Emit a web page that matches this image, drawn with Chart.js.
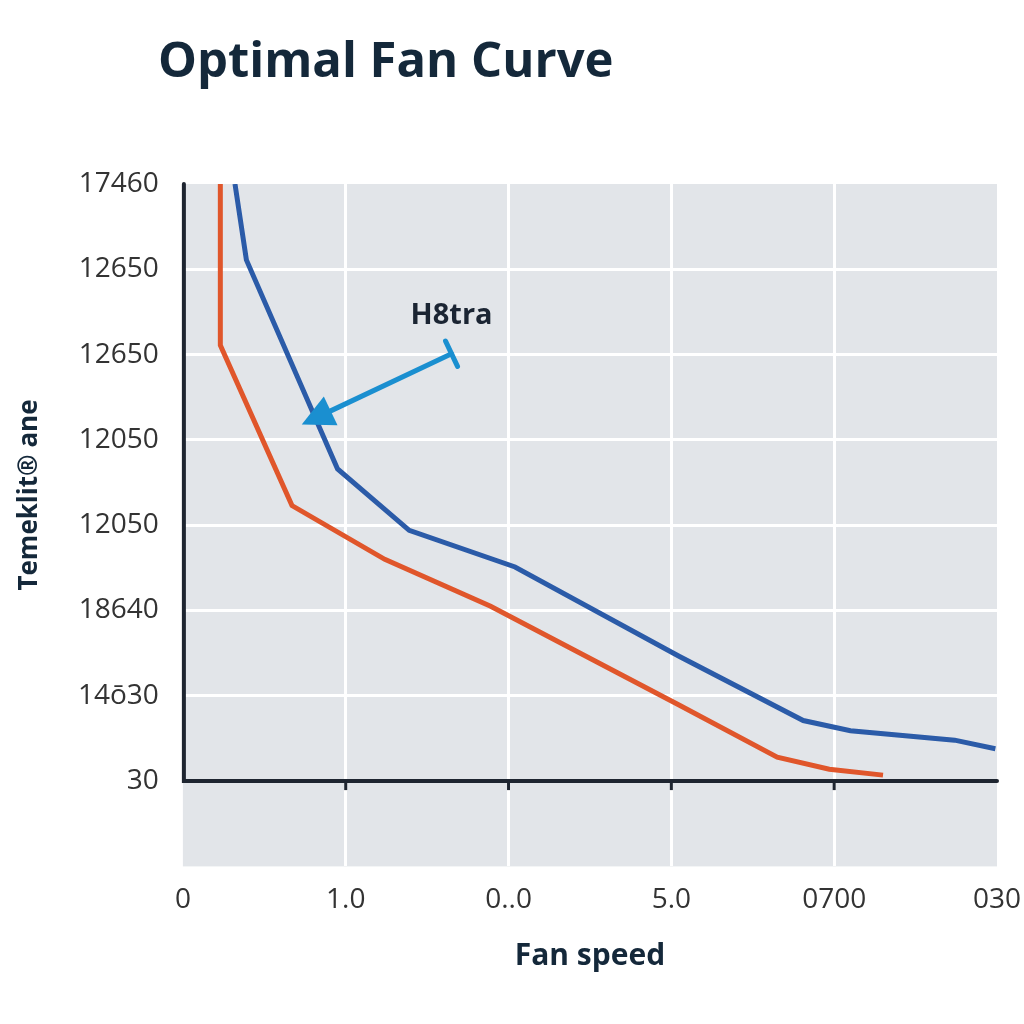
<!DOCTYPE html>
<html>
<head>
<meta charset="utf-8">
<title>Optimal Fan Curve</title>
<script src="https://cdn.jsdelivr.net/npm/chart.js@4.4.0/dist/chart.umd.min.js"></script>
<style>
  html, body { margin: 0; padding: 0; background: #ffffff; }
  #wrap { width: 1024px; height: 1024px; }
</style>
</head>
<body>
<div id="wrap"><canvas id="fanChart" width="1024" height="1024"></canvas></div>
<script>
// Etiquetas de los ejes (tal como aparecen en la imagen)
const xTickLabels = ["0", "1.0", "0..0", "5.0", "0700", "030"];
const yTickLabels = ["", "30", "14ō30", "18640", "12050", "12050", "12650", "12650", "17460"];

// Curva azul
const blueX = [0.32, 0.39, 0.95, 1.39, 2.04, 3.05, 3.81, 4.10, 4.74, 4.99];
const blueY = [8.0, 7.11, 4.66, 3.94, 3.51, 2.46, 1.71, 1.59, 1.48, 1.38];

// Curva naranja
const orangeX = [0.23, 0.23, 0.67, 1.24, 1.89, 3.05, 3.65, 3.97, 4.30];
const orangeY = [8.0, 6.11, 4.23, 3.60, 3.05, 1.89, 1.28, 1.14, 1.07];

// Anotación "H8tra" con flecha
const noteText = "H8tra";
const noteTail = [1.65, 6.01];
const noteTip = [0.73, 5.18];

const toPoints = (xs, ys) => xs.map((x, i) => ({ x: x, y: ys[i] }));

const fontFamily = "'Open Sans', 'Noto Sans', sans-serif";

// Fondo gris del área del gráfico
const plotBackground = {
    id: "plotBackground",
    beforeDraw(chart) {
        const { ctx, chartArea } = chart;
        ctx.save();
        ctx.fillStyle = "#e2e5e9";
        ctx.fillRect(chartArea.left, chartArea.top, chartArea.right - chartArea.left, chartArea.bottom - chartArea.top);
        ctx.restore();
    }
};

// Ejes negros, marcas, títulos y anotación
const decorations = {
    id: "decorations",
    beforeDatasetsDraw(chart) {
        const { ctx, chartArea, scales } = chart;
        const x0 = scales.x.getPixelForValue(0);
        const y1 = scales.y.getPixelForValue(1);
        ctx.save();
        ctx.strokeStyle = "#1e2530";
        ctx.lineWidth = 4;
        ctx.lineCap = "round";
        ctx.beginPath();
        ctx.moveTo(x0 + 1, chartArea.top);
        ctx.lineTo(x0 + 1, y1);
        ctx.lineTo(chartArea.right, y1);
        ctx.stroke();
        // marcas pequeñas
        ctx.lineWidth = 3;
        ctx.lineCap = "butt";
        [1, 2, 3, 4].forEach(v => {
            const px = scales.x.getPixelForValue(v);
            ctx.beginPath();
            ctx.moveTo(px, y1);
            ctx.lineTo(px, y1 + 9);
            ctx.stroke();
        });
        ctx.restore();
    },
    afterDraw(chart) {
        const { ctx, scales } = chart;
        ctx.save();
        // Título
        ctx.fillStyle = "#14283a";
        ctx.font = "bold 49px " + fontFamily;
        ctx.textAlign = "left";
        ctx.textBaseline = "alphabetic";
        ctx.fillText("Optimal Fan Curve", 158, 77);

        // Título del eje Y
        ctx.save();
        ctx.translate(30, 495);
        ctx.rotate(-Math.PI / 2);
        ctx.font = "bold 26px " + fontFamily;
        ctx.textAlign = "center";
        ctx.textBaseline = "middle";
        ctx.fillText("Temeklit\u00AE ane", 0, 0);
        ctx.restore();

        // Flecha
        const tx = scales.x.getPixelForValue(noteTail[0]);
        const ty = scales.y.getPixelForValue(noteTail[1]);
        const hx = scales.x.getPixelForValue(noteTip[0]);
        const hy = scales.y.getPixelForValue(noteTip[1]);
        const ang = Math.atan2(hy - ty, hx - tx);
        const headLen = 32, headW = 16;
        const bx = hx - headLen * Math.cos(ang);
        const by = hy - headLen * Math.sin(ang);
        ctx.strokeStyle = "#1a8fd0";
        ctx.fillStyle = "#1a8fd0";
        ctx.lineWidth = 5;
        ctx.lineCap = "round";
        ctx.beginPath();
        ctx.moveTo(tx, ty);
        ctx.lineTo(bx, by);
        ctx.stroke();
        // barra del extremo
        const px = -Math.sin(ang), py = Math.cos(ang);
        ctx.beginPath();
        ctx.moveTo(tx + px * 14, ty + py * 14);
        ctx.lineTo(tx - px * 14, ty - py * 14);
        ctx.stroke();
        // punta
        ctx.beginPath();
        ctx.moveTo(hx, hy);
        ctx.lineTo(bx + px * headW, by + py * headW);
        ctx.lineTo(bx - px * headW, by - py * headW);
        ctx.closePath();
        ctx.fill();

        // Texto de la anotación
        ctx.fillStyle = "#1b2533";
        ctx.font = "bold 29px " + fontFamily;
        ctx.textAlign = "center";
        ctx.textBaseline = "middle";
        ctx.fillText(noteText, tx, ty - 38);
        ctx.restore();
    }
};

const ctx = document.getElementById("fanChart").getContext("2d");
const fanChart = new Chart(ctx, {
    type: "line",
    data: {
        datasets: [
            {
                label: "Blue",
                data: toPoints(blueX, blueY),
                borderColor: "#2b5ba8",
                borderWidth: 5,
                pointRadius: 0,
                fill: false,
                tension: 0
            },
            {
                label: "Orange",
                data: toPoints(orangeX, orangeY),
                borderColor: "#e0562b",
                borderWidth: 5,
                pointRadius: 0,
                fill: false,
                tension: 0
            }
        ]
    },
    options: {
        responsive: false,
        animation: false,
        layout: {
            padding: { top: 184, right: 27, left: 54, bottom: 50 }
        },
        plugins: {
            legend: { display: false },
            tooltip: { enabled: false },
            title: { display: false }
        },
        scales: {
            x: {
                type: "linear",
                min: 0,
                max: 5,
                border: { display: false },
                afterFit(scale) {
                    // dejar que la última etiqueta sobresalga del área
                    scale.paddingRight = 0;
                    scale.paddingLeft = 0;
                },
                grid: {
                    color: c => (c.tick && c.tick.value > 0 && c.tick.value < 5) ? "#ffffff" : "rgba(0,0,0,0)",
                    lineWidth: 3,
                    drawTicks: false
                },
                ticks: {
                    stepSize: 1,
                    padding: 17,
                    color: "#333333",
                    font: { size: 28, family: fontFamily },
                    callback: (v) => xTickLabels[v] !== undefined ? xTickLabels[v] : ""
                },
                title: {
                    display: true,
                    text: "Fan speed",
                    color: "#14283a",
                    font: { size: 30, weight: "bold", family: fontFamily },
                    padding: { top: 4, bottom: 0 }
                }
            },
            y: {
                type: "linear",
                min: 0,
                max: 8,
                border: { display: false },
                grid: {
                    color: c => (c.tick && c.tick.value >= 2 && c.tick.value <= 7) ? "#ffffff" : "rgba(0,0,0,0)",
                    lineWidth: 3,
                    drawTicks: false
                },
                ticks: {
                    stepSize: 1,
                    padding: 24,
                    color: "#333333",
                    font: { size: 28, family: fontFamily },
                    callback: (v) => yTickLabels[v] !== undefined ? yTickLabels[v] : ""
                }
            }
        }
    },
    plugins: [plotBackground, decorations]
});
</script>
</body>
</html>
